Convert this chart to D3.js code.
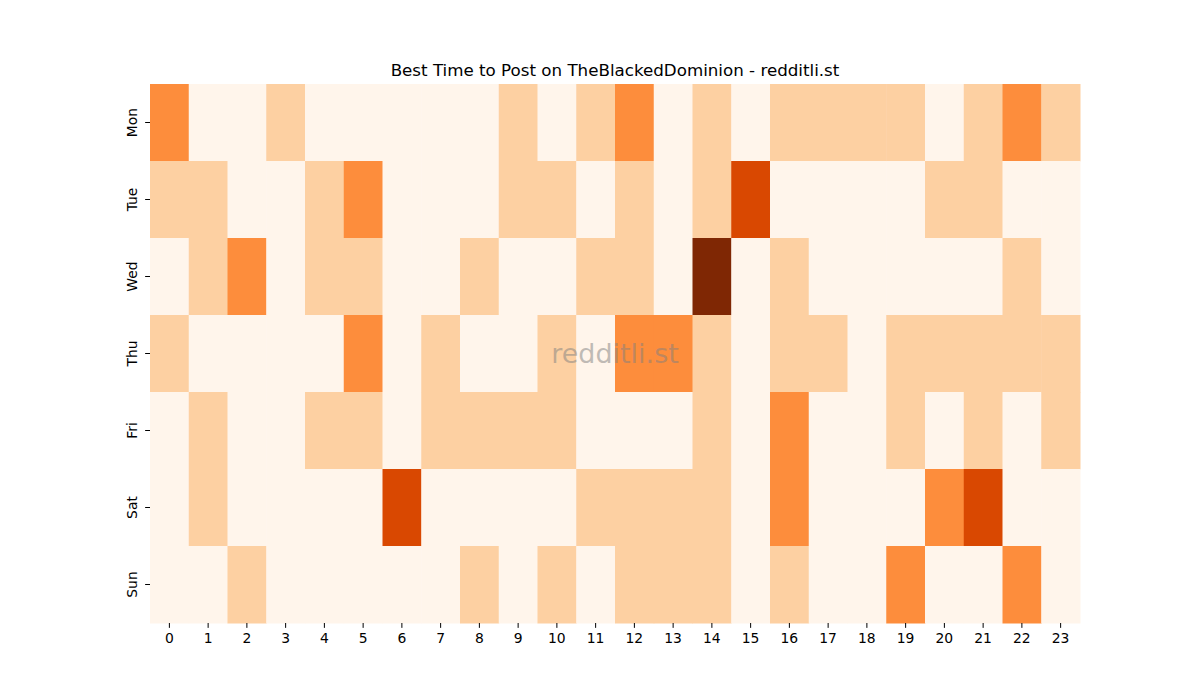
<!DOCTYPE html>
<html>
<head>
<meta charset="utf-8">
<script src="https://cdn.jsdelivr.net/npm/d3@7"></script>
<style>
  body { margin: 0; background: #fff; }
  text { font-family: "DejaVu Sans", sans-serif; }
</style>
</head>
<body>
<div id="drawing"></div>
<script>
const width = 1200;
const height = 700;
const margin = {top: 84, right: 120, bottom: 77, left: 150};
const innerW = width - margin.left - margin.right;
const innerH = height - margin.top - margin.bottom;

// hours along the bottom, days down the side
const hours = ["0","1","2","3","4","5","6","7","8","9","10","11","12","13","14","15","16","17","18","19","20","21","22","23"];
const days = ["Mon","Tue","Wed","Thu","Fri","Sat","Sun"];

// one row per day, one value per hour
const mon = [2,0,0,1,0,0,0,0,0,1,0,1,2,0,1,0,1,1,1,1,0,1,2,1];
const tue = [1,1,0,0,1,2,0,0,0,1,1,0,1,0,1,3,0,0,0,0,1,1,0,0];
const wed = [0,1,2,0,1,1,0,0,1,0,0,1,1,0,4,0,1,0,0,0,0,0,1,0];
const thu = [1,0,0,0,0,2,0,1,0,0,1,0,2,2,1,0,1,1,0,1,1,1,1,1];
const fri = [0,1,0,0,1,1,0,1,1,1,1,0,0,0,1,0,2,0,0,1,0,1,0,1];
const sat = [0,1,0,0,0,0,3,0,0,0,0,1,1,1,1,0,2,0,0,0,2,3,0,0];
const sun = [0,0,1,0,0,0,0,0,1,0,1,0,1,1,1,0,1,0,0,2,0,0,2,0];
const rows = [mon, tue, wed, thu, fri, sat, sun];

const cells = [];
rows.forEach((r, i) => r.forEach((v, j) => cells.push({day: days[i], hour: hours[j], value: v})));

const svg = d3.select("#drawing").append("svg")
  .attr("width", width)
  .attr("height", height);

const g = svg.append("g")
  .attr("transform", `translate(${margin.left},${margin.top})`);

const xScale = d3.scaleBand().domain(hours).range([0, innerW]);
const yScale = d3.scaleBand().domain(days).range([0, innerH]);
const color = d3.scaleLinear()
  .domain([0, 1, 2, 3, 4])
  .range(["#fff5eb", "#fdd0a2", "#fd8d3c", "#d94801", "#7f2704"]);

g.selectAll(".cell")
  .data(cells)
  .enter()
  .append("rect")
    .attr("class", "cell")
    .attr("x", d => xScale(d.hour))
    .attr("y", d => yScale(d.day))
    .attr("width", xScale.bandwidth() + 0.5)
    .attr("height", yScale.bandwidth() + 0.5)
    .attr("fill", d => color(d.value));

const tick = 4.86;

const xAxis = g.append("g")
  .attr("transform", `translate(0,${innerH})`)
  .call(d3.axisBottom(xScale).tickSize(tick).tickPadding(tick));
xAxis.select(".domain").remove();
xAxis.selectAll("text")
  .style("font-size", "13.9px")
  .attr("fill", "#000");
xAxis.selectAll("line").attr("stroke", "#000").attr("stroke-width", 1);

const yAxis = g.append("g")
  .call(d3.axisLeft(yScale).tickSize(tick).tickPadding(tick));
yAxis.select(".domain").remove();
yAxis.selectAll("line").attr("stroke", "#000").attr("stroke-width", 1);
yAxis.selectAll("text")
  .style("font-size", "13.9px")
  .attr("fill", "#000")
  .attr("x", 0)
  .attr("dy", 0)
  .attr("text-anchor", "middle")
  .attr("transform", `translate(${-(tick * 2 + 3)},0) rotate(-90)`);

// title
svg.append("text")
  .attr("x", margin.left + innerW / 2)
  .attr("y", 76)
  .attr("text-anchor", "middle")
  .style("font-size", "16.7px")
  .attr("fill", "#000")
  .text("Best Time to Post on TheBlackedDominion - redditli.st");

// watermark
svg.append("text")
  .attr("x", margin.left + innerW / 2)
  .attr("y", margin.top + innerH / 2 + 9)
  .attr("text-anchor", "middle")
  .style("font-size", "27px")
  .attr("fill", "#808080")
  .attr("fill-opacity", 0.5)
  .text("redditli.st");
</script>
</body>
</html>
